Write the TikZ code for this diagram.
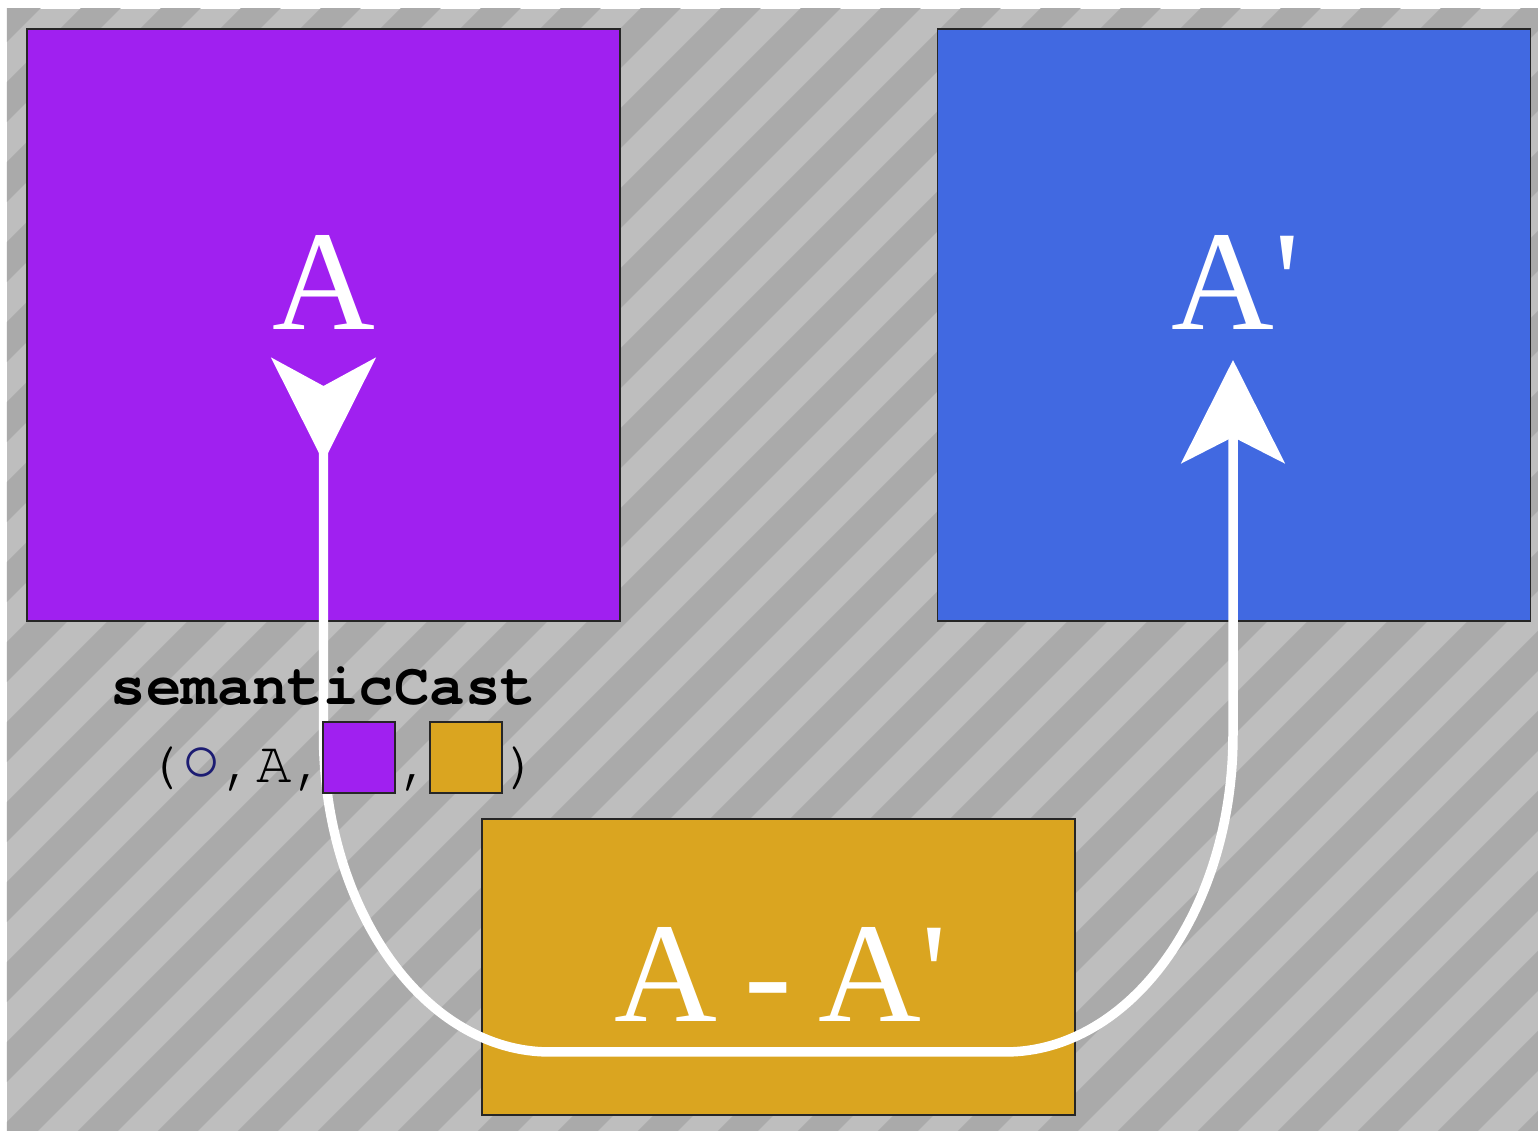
\documentclass[tikz,border=0pt]{standalone}
\usepackage{fontspec}
\setmainfont{Liberation Serif}
\setmonofont{TeX Gyre Cursor}
\newfontfamily\bigfont[WordSpace=0.76]{Liberation Serif}
\newfontfamily\ringfont{Liberation Mono}
\usetikzlibrary{arrows.meta,positioning}
\definecolor{stripelt}{HTML}{BEBEBE}
\definecolor{stripedk}{HTML}{AAAAAA}
\definecolor{srcfill}{HTML}{A020F0}
\definecolor{dstfill}{HTML}{4169E1}
\definecolor{difffill}{HTML}{DAA520}
\definecolor{ringblue}{HTML}{1C1C72}
\tikzset{
  panel/.style={draw=black!85,line width=0.4pt,inner sep=0pt,outer sep=0pt},
  bigpanel/.style={panel,minimum width=5.93cm,minimum height=5.92cm},
  swatch/.style={panel,minimum width=0.72cm,minimum height=0.71cm},
  big/.style={text=white,inner sep=0pt,anchor=base,font=\bigfont\fontsize{40.5}{41}\selectfont},
  code/.style={inner sep=0pt,anchor=base west,font=\ttfamily\fontsize{16.8}{17}\selectfont},
  codebf/.style={code,font=\ttfamily\bfseries\fontsize{16.8}{17}\selectfont},
  cast/.style={draw=white,line width=2.7pt,{Stealth[reversed,length=1.04cm,width=1.04cm,inset=0.28cm]}-{Stealth[length=1.03cm,width=1.03cm,inset=0.26cm]}},
}

\begin{document}
\begin{tikzpicture}[x=0.01cm,y=-0.01cm]
\useasboundingbox (0,0) rectangle (1538,1131);
% striped backdrop
\fill[stripelt] (7,9) rectangle (1538,1131);
\begin{scope}
  \clip (7,9) rectangle (1538,1131);
  \foreach \c in {-71,9,...,2729}
    \fill[stripedk] (\c,0) -- ++(40,0) -- ++(-1200,1200) -- ++(-40,0) -- cycle;
\end{scope}

\node[bigpanel,fill=srcfill] (src) at (323.5,325) {};
\node[bigpanel,fill=dstfill,right=3.17cm of src] (dst) {};
\node[panel,fill=difffill,minimum width=5.93cm,minimum height=2.96cm] (diff) at (778.5,967) {};

\node[big] (srclab) at (324,330) {A};
\node[big] (dstlab) at (1236,330) {A\textquotesingle};
\node[big] (difflab) at (781,1022) {A - A\textquotesingle};

\coordinate (castfrom) at (323.5,358);
\coordinate (castto) at (1233,360);
\draw[cast] (castfrom) -- (323.5,735) .. controls (323.5,910) and (425,1052) .. (550,1052)
  -- (1005,1052) .. controls (1131,1052) and (1233,910) .. (1233,735) -- (castto);

\node[codebf] (fname) at (110,705) {semanticCast};
\node[code] (fargs) at (145,783) {(\textcolor{ringblue}{\ringfont\bfseries\fontsize{19}{19}\selectfont ○},A,\phantom{AA},\phantom{AA})};
\node[swatch,fill=srcfill] (argsrc) at (359,757.5) {};
\node[swatch,fill=difffill] (argdiff) at (466,757.5) {};
\end{tikzpicture}
\end{document}
